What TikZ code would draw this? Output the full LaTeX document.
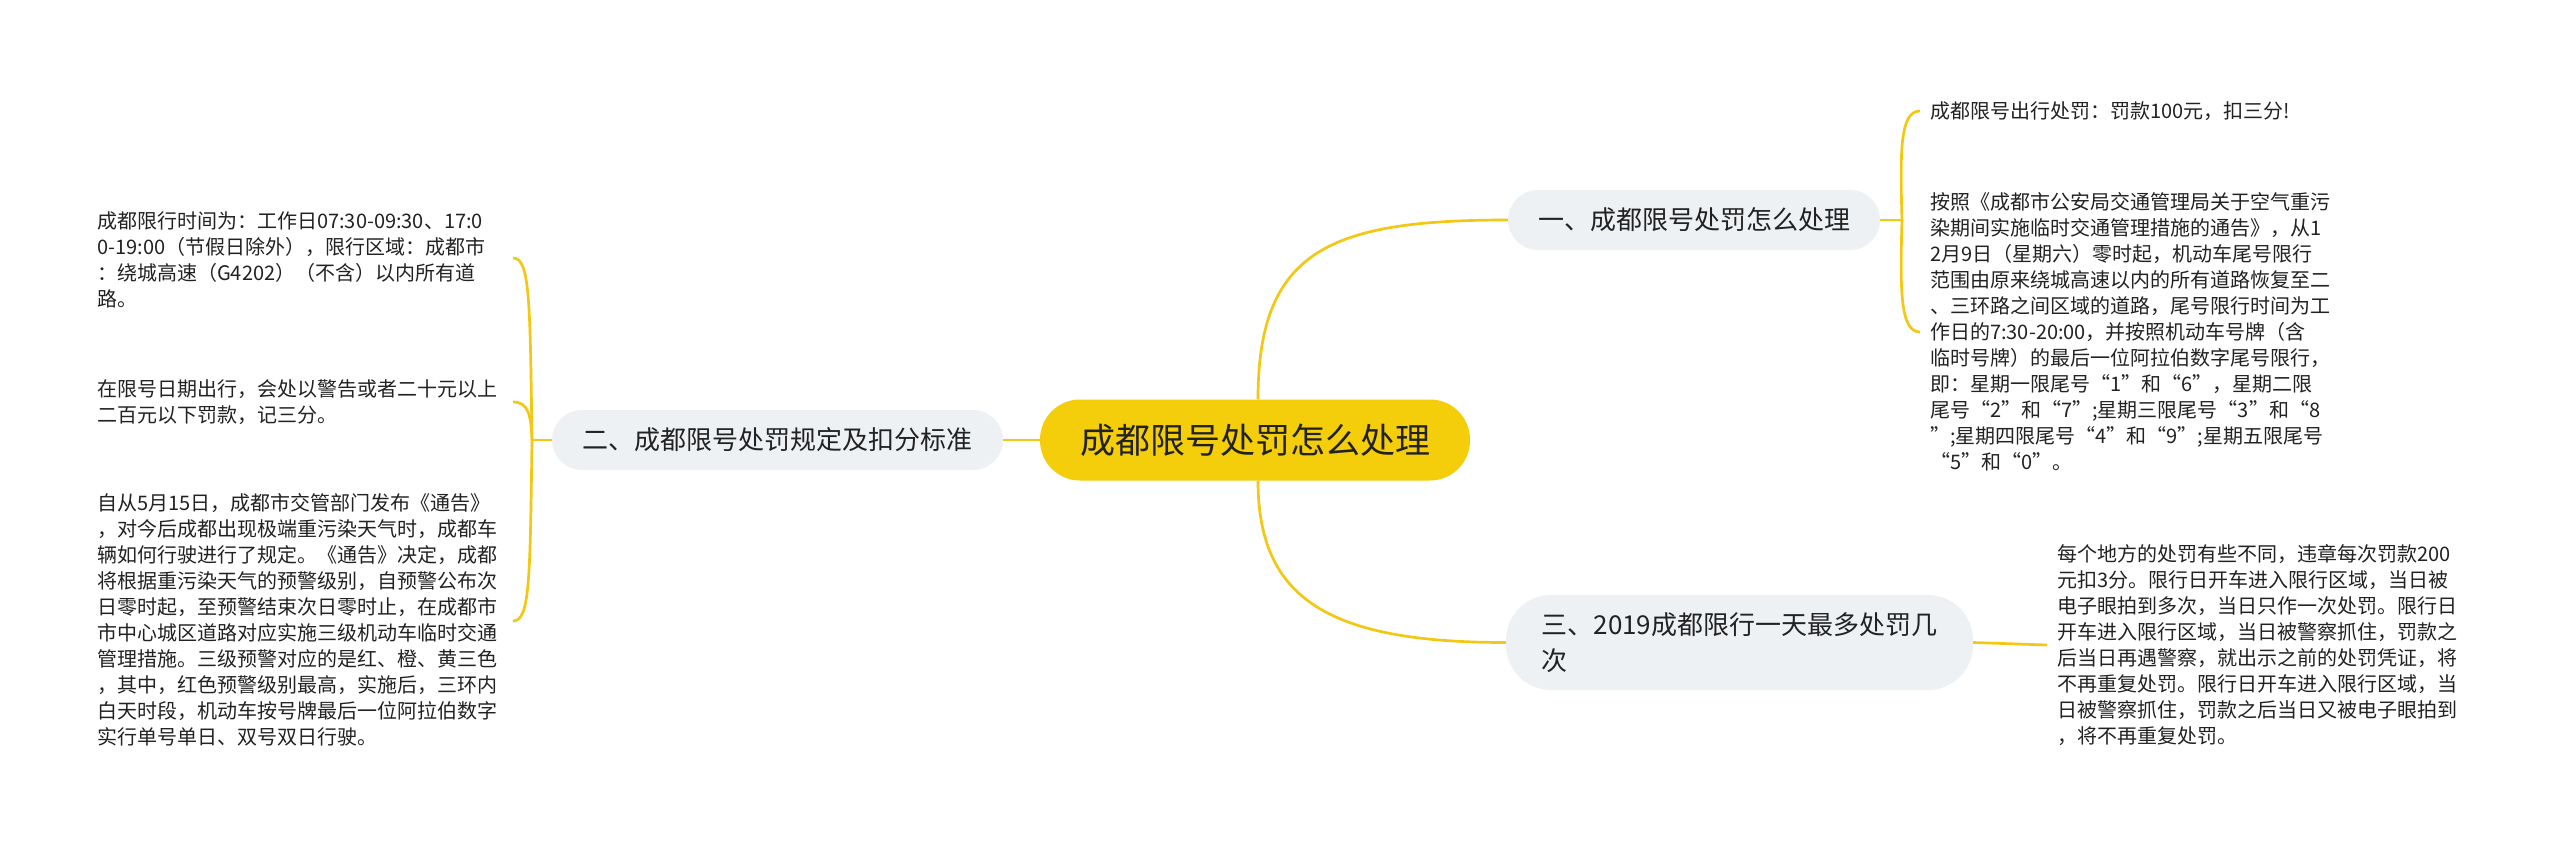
\documentclass[tikz,border=0pt]{standalone}
\usepackage{fontspec}
\setmainfont{Noto Sans CJK SC}
\definecolor{yc}{HTML}{F5CE0B}
\definecolor{lc}{HTML}{F2C814}
\definecolor{gc}{HTML}{EEF1F4}
\definecolor{tc}{HTML}{222222}
\tikzset{
  conn/.style={draw=lc, line width=2.7pt},
  rootbox/.style={fill=yc, rounded corners=40pt, minimum width=430pt, minimum height=81pt, font=\fontsize{35}{42}\selectfont, text=tc, inner sep=0pt},
  topicbox/.style={fill=gc, rounded corners=30pt, minimum height=60pt, font=\fontsize{26}{36}\selectfont, text=tc, inner sep=0pt},
  leafbox/.style={font=\fontsize{20}{26}\selectfont, align=left, inner ysep=0pt, inner xsep=10pt, anchor=west, text=tc},
}
\begin{document}
\begin{tikzpicture}[x=1pt,y=-1pt]
\useasboundingbox[fill=white] (0,0) rectangle (2560,849);

\node[rootbox] (root) at (1255,440) {成都限号处罚怎么处理};
\node[topicbox, minimum width=372pt] (t1) at (1694,220) {一、成都限号处罚怎么处理};
\node[topicbox, minimum width=451pt] (t2) at (777.5,440) {二、成都限号处罚规定及扣分标准};
\node[topicbox, minimum width=467pt, minimum height=95pt, rounded corners=45pt, align=left] (t3) at (1739.5,642.5) {三、2019成都限行一天最多处罚几\\次};

\node[leafbox] (r1) at (1920,111) {成都限号出行处罚：罚款100元，扣三分!};
\node[leafbox] (r2) at (1920,332) {按照《成都市公安局交通管理局关于空气重污\\染期间实施临时交通管理措施的通告》，从1\\2月9日（星期六）零时起，机动车尾号限行\\范围由原来绕城高速以内的所有道路恢复至二\\、三环路之间区域的道路，尾号限行时间为工\\作日的7:30-20:00，并按照机动车号牌（含\\临时号牌）的最后一位阿拉伯数字尾号限行，\\即：星期一限尾号“1”和“6”，星期二限\\尾号“2”和“7”;星期三限尾号“3”和“8\\”;星期四限尾号“4”和“9”;星期五限尾号\\“5”和“0”。};

\node[leafbox] (l1) at (87,260) {成都限行时间为：工作日07:30-09:30、17:0\\0-19:00（节假日除外），限行区域：成都市\\：绕城高速（G4202）（不含）以内所有道\\路。};
\node[leafbox] (l2) at (87,402) {在限号日期出行，会处以警告或者二十元以上\\二百元以下罚款，记三分。};
\node[leafbox] (l3) at (87,620) {自从5月15日，成都市交管部门发布《通告》\\，对今后成都出现极端重污染天气时，成都车\\辆如何行驶进行了规定。《通告》决定，成都\\将根据重污染天气的预警级别，自预警公布次\\日零时起，至预警结束次日零时止，在成都市\\市中心城区道路对应实施三级机动车临时交通\\管理措施。三级预警对应的是红、橙、黄三色\\，其中，红色预警级别最高，实施后，三环内\\白天时段，机动车按号牌最后一位阿拉伯数字\\实行单号单日、双号双日行驶。};

\node[leafbox] (r3) at (2047,645) {每个地方的处罚有些不同，违章每次罚款200\\元扣3分。限行日开车进入限行区域，当日被\\电子眼拍到多次，当日只作一次处罚。限行日\\开车进入限行区域，当日被警察抓住，罚款之\\后当日再遇警察，就出示之前的处罚凭证，将\\不再重复处罚。限行日开车进入限行区域，当\\日被警察抓住，罚款之后当日又被电子眼拍到\\，将不再重复处罚。};

% root connectors
\draw[conn] ([xshift=3pt]root.north) .. controls (1258,250) and (1330,220) .. (t1.west);
\draw[conn] ([xshift=3pt]root.south) .. controls (1258,600) and (1330,642.5) .. (t3.west);
\draw[conn] (root.west) -- (t2.east);

% right bracket
\coordinate (rs) at (1902,220);
\draw[conn] (t1.east) -- (rs);
\draw[conn] (rs) .. controls (1900,150) and (1900,111) .. (r1.west);
\draw[conn] (rs) .. controls (1900,290) and (1900,332) .. (r2.west);

% left bracket
\coordinate (ls) at (532,440);
\coordinate (l1e) at (513,258);
\coordinate (l2e) at (513,402);
\coordinate (l3e) at (513,621);
\draw[conn] (t2.west) -- (ls);
\draw[conn] (ls) .. controls (530,300) and (530,258) .. (l1e);
\draw[conn] (ls) .. controls (531,414) and (528,402) .. (l2e);
\draw[conn] (ls) .. controls (530,580) and (530,621) .. (l3e);

% bottom right
\draw[conn] (t3.east) -- (r3.west);
\end{tikzpicture}
\end{document}
